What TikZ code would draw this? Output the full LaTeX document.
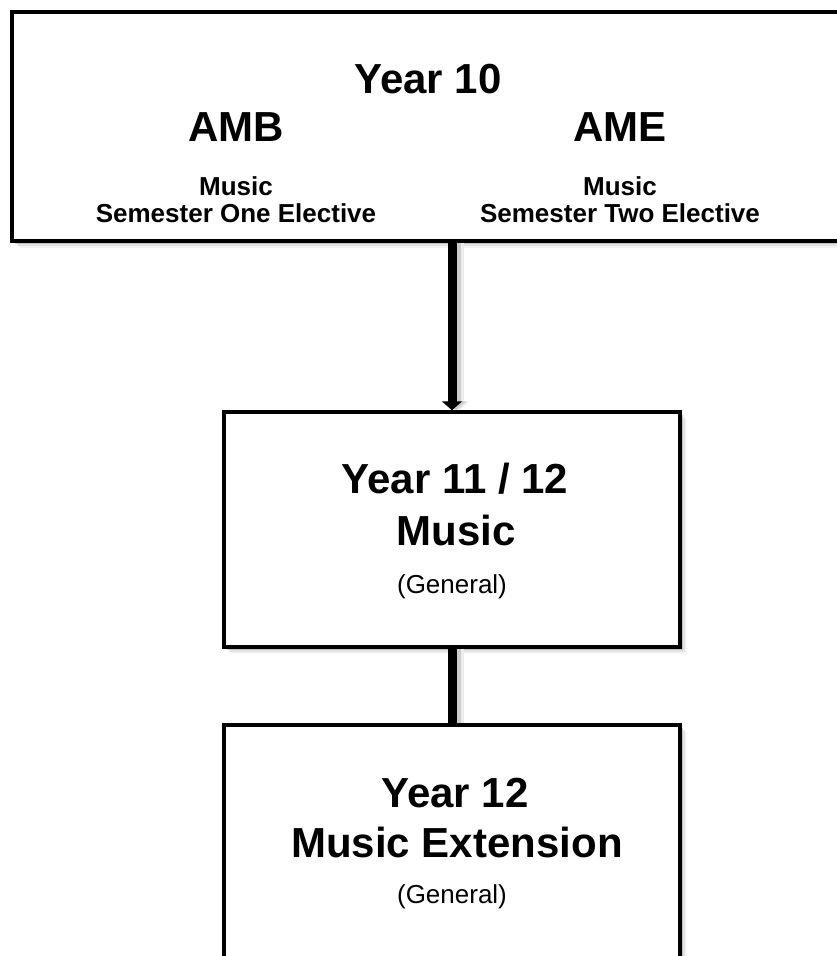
\documentclass[tikz,border=0pt]{standalone}
\usepackage{fontspec}
\setmainfont{Liberation Sans}
\usepackage{tikz}
\usetikzlibrary{
  arrows.meta,
  shadows
}

\tikzset{
  stagebox/.style={draw, line width=3.5pt, fill=white, inner sep=0pt,
    drop shadow={shadow xshift=7pt, shadow yshift=-7pt, fill=black!8},
    drop shadow={shadow xshift=4.5pt, shadow yshift=-4.5pt, fill=black!18},
    drop shadow={shadow xshift=2.5pt, shadow yshift=-2.5pt, fill=black!35}},
  bigtitle/.style={font=\fontsize{42}{50}\selectfont\bfseries, anchor=base, inner sep=0pt},
  subtitle/.style={font=\fontsize{26}{30}\selectfont\bfseries, anchor=base, inner sep=0pt},
  notetext/.style={font=\fontsize{26}{30}\selectfont, anchor=base, inner sep=0pt},
  link/.style={line width=9pt,
    preaction={draw=black!8, line width=9pt, transform canvas={xshift=7pt}},
    preaction={draw=black!20, line width=9pt, transform canvas={xshift=4pt}}}
}

\begin{document}
\begin{tikzpicture}[x=1pt, y=-1pt]
  \useasboundingbox (0,0) rectangle (836,956);
  % Boxes
  \node[stagebox, minimum width=831pt, minimum height=229pt] (yr10) at (427.5,126.5) {};
  \node[stagebox, minimum width=456pt, minimum height=235pt] (yr11) at (452,529.5) {};
  \node[stagebox, minimum width=456pt, minimum height=270pt] (yr12) at (452,860) {};
  % Connectors
  \draw[link, -{Triangle[width=20pt, length=9pt]}] (yr10.south -| yr11.north) -- (yr11.north);
  \draw[link] (yr11.south) -- (yr12.north);
  % Year 10
  \node[bigtitle] (yr10t) at (428,93) {Year 10};
  \node[bigtitle] (amb) at (236,141) {AMB};
  \node[bigtitle] (ame) at (620,141) {AME};
  \node[subtitle] (ambm) at (236,195) {Music};
  \node[subtitle] (ambs) at (236,222) {Semester One Elective};
  \node[subtitle] (amem) at (620,195) {Music};
  \node[subtitle] (ames) at (620,222) {Semester Two Elective};
  % Year 11 / 12
  \node[bigtitle] (yr11t) at (455,493) {Year 11 / 12};
  \node[bigtitle] (yr11m) at (456,545) {Music};
  \node[notetext] (yr11g) at (452,593) {(General)};
  % Year 12
  \node[bigtitle] (yr12t) at (455,807) {Year 12};
  \node[bigtitle] (yr12m) at (457,857) {Music Extension};
  \node[notetext] (yr12g) at (452,903) {(General)};
\end{tikzpicture}
\end{document}
